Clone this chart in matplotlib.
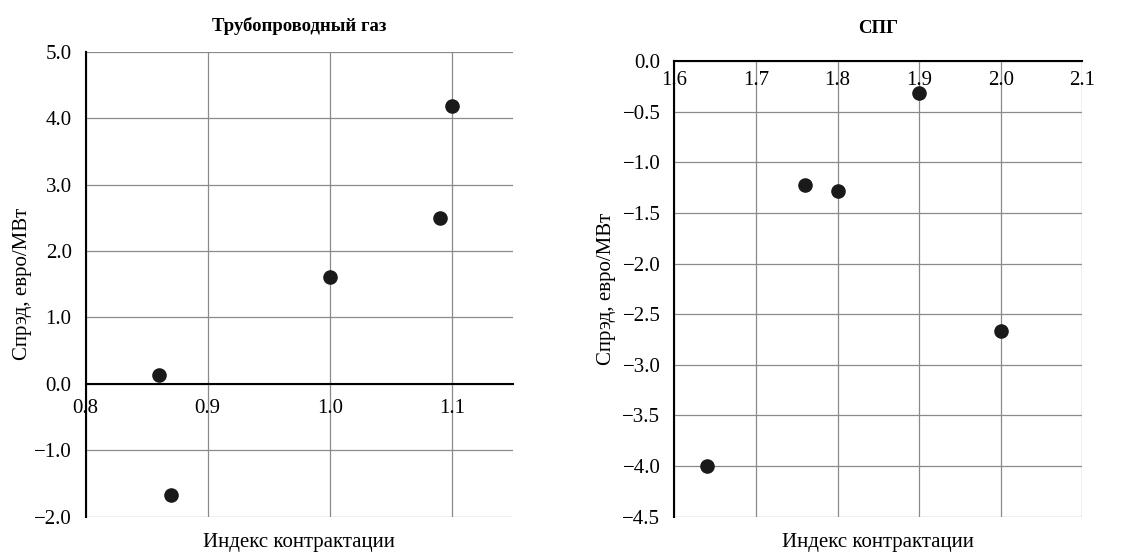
import matplotlib
matplotlib.use("Agg")
import matplotlib.pyplot as plt

# Трубопроводный газ
pipe_x = [0.86, 0.87, 1.00, 1.09, 1.10]
pipe_y = [0.14, -1.67, 1.61, 2.50, 4.18]

# СПГ
lng_x = [1.64, 1.76, 1.80, 1.90, 2.00]
lng_y = [-4.00, -1.22, -1.28, -0.32, -2.67]

pipe_xticks = [0.8, 0.9, 1.0, 1.1]
pipe_yticks = [-2, -1, 0, 1, 2, 3, 4, 5]
lng_xticks = [1.6, 1.7, 1.8, 1.9, 2.0, 2.1]
lng_yticks = [-4.5, -4.0, -3.5, -3.0, -2.5, -2.0, -1.5, -1.0, -0.5, 0.0]

titles = ["Трубопроводный газ", "СПГ"]
xlabel = "Индекс контрактации"
ylabel = "Спрэд, евро/МВт"

plt.rcParams['font.family'] = ['Liberation Serif', 'DejaVu Serif']
plt.rcParams['font.size'] = 15

GRID = '#8a8a8a'
DOT = '#1a1a1a'


def fmt(v):
    return f"{v:.1f}".replace('-', '\u2212')


fig = plt.figure(figsize=(11.42, 5.53), dpi=100)

# left panel
ax1 = fig.add_axes([0.0749, 0.0656, 0.3743, 0.8409])
ax1.scatter(pipe_x, pipe_y, s=90, color=DOT, zorder=3)
ax1.set_xlim(0.8, 1.15)
ax1.set_ylim(-2, 5)
ax1.set_xticks(pipe_xticks)
ax1.set_xticklabels([fmt(v) for v in pipe_xticks])
ax1.set_yticks(pipe_yticks)
ax1.set_yticklabels([fmt(v) for v in pipe_yticks])
ax1.grid(True, color=GRID, linewidth=0.9)
ax1.spines['top'].set_visible(False)
ax1.spines['right'].set_visible(False)
ax1.spines['bottom'].set_position(('data', 0))
ax1.spines['left'].set_linewidth(1.5)
ax1.spines['bottom'].set_linewidth(1.5)
ax1.tick_params(axis='both', length=0)
ax1.tick_params(axis='x', pad=11)
ax1.tick_params(axis='y', pad=10)
ax1.set_title(titles[0], fontweight='bold', fontsize=13.5, pad=15)
ax1.set_ylabel(ylabel, fontsize=15)
ax1.yaxis.set_label_coords(-0.125, 0.5)
ax1.text(0.5, -0.035, xlabel, transform=ax1.transAxes, ha='center', va='top', fontsize=15)

# right panel
ax2 = fig.add_axes([0.5905, 0.0656, 0.3572, 0.8241])
ax2.scatter(lng_x, lng_y, s=90, color=DOT, zorder=3)
ax2.set_xlim(1.6, 2.1)
ax2.set_ylim(-4.5, 0)
ax2.set_xticks(lng_xticks)
ax2.set_xticklabels([fmt(v) for v in lng_xticks])
ax2.set_yticks(lng_yticks)
ax2.set_yticklabels([fmt(v) for v in lng_yticks])
ax2.grid(True, color=GRID, linewidth=0.9)
ax2.xaxis.tick_top()
ax2.spines['right'].set_visible(False)
ax2.spines['bottom'].set_visible(False)
ax2.spines['top'].set_linewidth(1.5)
ax2.spines['left'].set_linewidth(1.5)
ax2.tick_params(axis='both', length=0)
ax2.tick_params(axis='x', pad=-21)
ax2.tick_params(axis='y', pad=10)
ax2.set_title(titles[1], fontweight='bold', fontsize=13.5, pad=20)
ax2.set_ylabel(ylabel, fontsize=15)
ax2.yaxis.set_label_coords(-0.143, 0.5)
ax2.text(0.5, -0.035, xlabel, transform=ax2.transAxes, ha='center', va='top', fontsize=15)

fig.savefig('out.png', dpi=100)
